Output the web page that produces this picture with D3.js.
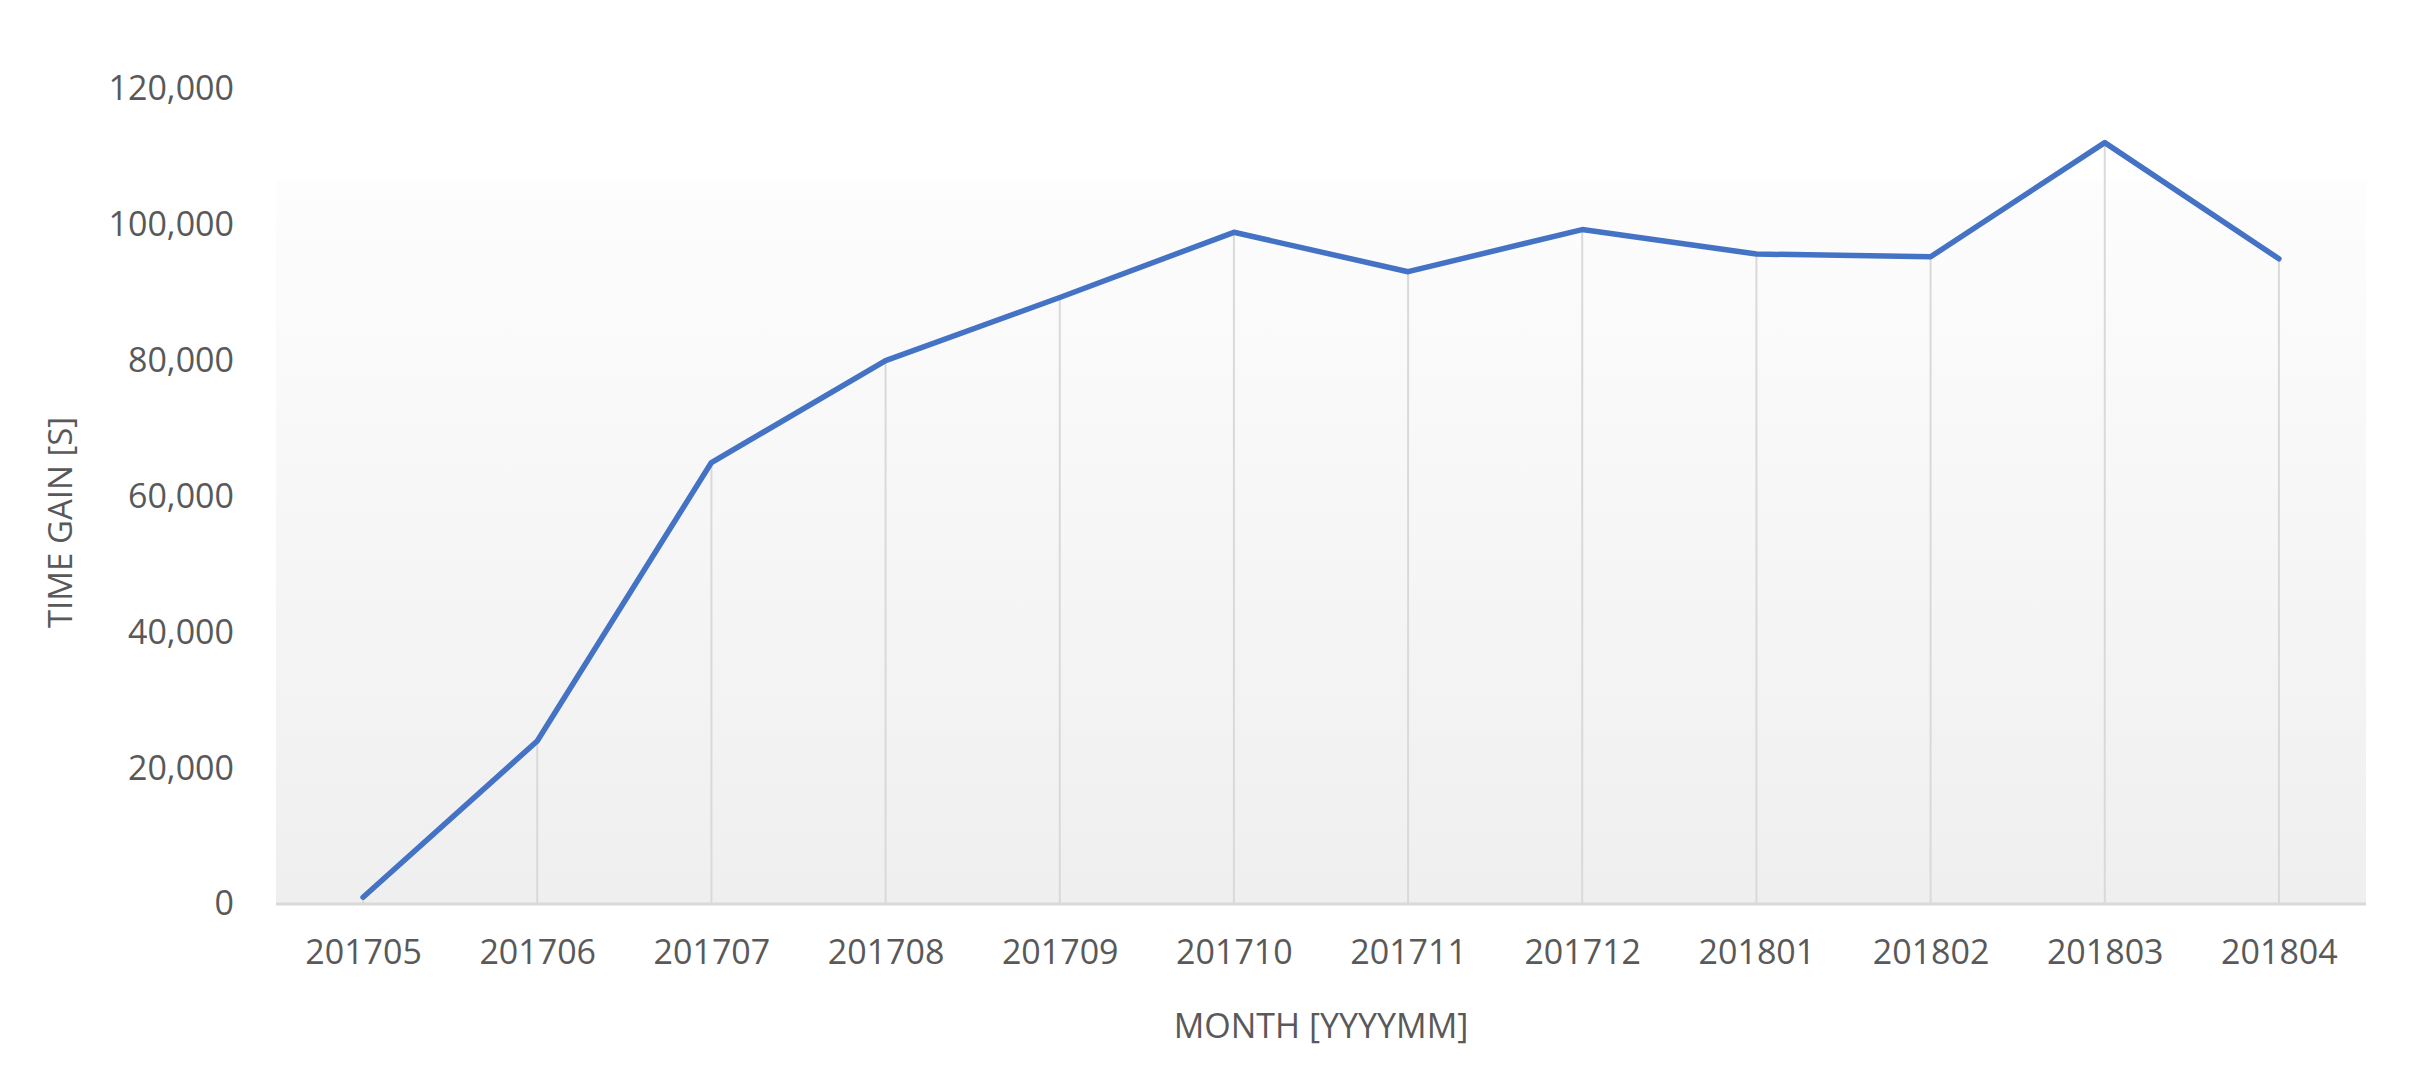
<!DOCTYPE html>
<html>
<head>
<meta charset="utf-8">
<script src="https://cdn.jsdelivr.net/npm/d3@7"></script>
<style>
  html, body { margin: 0; padding: 0; background: #ffffff; }
  svg { display: block; }
  text { font-family: "Open Sans", "Liberation Sans", sans-serif; fill: #595959; }
</style>
</head>
<body>
<svg id="chart" width="2420" height="1090"></svg>
<script>
// ---- data ----
const months = ["201705","201706","201707","201708","201709","201710","201711","201712","201801","201802","201803","201804"];
const timeGain = [1000, 24000, 65000, 80000, 89300, 98900, 93100, 99300, 95700, 95300, 112100, 95000];
const yTicks = [0, 20000, 40000, 60000, 80000, 100000, 120000];
const xTitle = "MONTH [YYYYMM]";
const yTitle = "TIME GAIN [S]";

// ---- layout ----
const W = 2420, H = 1090;
const plot = { left: 276, right: 2366, top: 89, bottom: 904 };
const svg = d3.select("#chart");

const x = d3.scalePoint().domain(months).range([plot.left, plot.right]).padding(0.5);
const y = d3.scaleLinear().domain([0, 120000]).range([plot.bottom, plot.top]);

// gradient background for plot area
const defs = svg.append("defs");
const grad = defs.append("linearGradient").attr("id", "bg").attr("x1", 0).attr("y1", 0).attr("x2", 0).attr("y2", 1);
grad.append("stop").attr("offset", "0%").attr("stop-color", "#fdfdfd");
grad.append("stop").attr("offset", "100%").attr("stop-color", "#efefef");

const bgTop = y(106500);
svg.append("rect")
  .attr("x", plot.left).attr("y", bgTop)
  .attr("width", plot.right - plot.left).attr("height", plot.bottom - bgTop)
  .attr("fill", "url(#bg)");

// drop lines
svg.append("g").selectAll("line")
  .data(months.map((m, i) => ({ m, v: timeGain[i] })))
  .join("line")
  .attr("x1", d => x(d.m)).attr("x2", d => x(d.m))
  .attr("y1", d => y(d.v)).attr("y2", plot.bottom)
  .attr("stroke", "#d9d9d9").attr("stroke-width", 2);

// x axis
const xAxis = svg.append("g")
  .attr("transform", `translate(0,${plot.bottom})`)
  .call(d3.axisBottom(x).tickSize(0).tickPadding(36));
xAxis.select(".domain").remove();
xAxis.selectAll("text").style("font-size", "34px").attr("fill", "#595959");
svg.append("line")
  .attr("x1", plot.left).attr("x2", plot.right)
  .attr("y1", plot.bottom).attr("y2", plot.bottom)
  .attr("stroke", "#d9d9d9").attr("stroke-width", 3);

// y axis
const yAxis = svg.append("g")
  .attr("transform", `translate(${plot.left},0)`)
  .call(d3.axisLeft(y).tickValues(yTicks).tickFormat(d3.format(",")).tickSize(0).tickPadding(42));
yAxis.select(".domain").remove();
yAxis.selectAll("text").style("font-size", "34px").attr("fill", "#595959");

// line
const line = d3.line()
  .x((d, i) => x(months[i]))
  .y(d => y(d));
svg.append("path")
  .datum(timeGain)
  .attr("d", line)
  .attr("fill", "none")
  .attr("stroke", "#4472c4")
  .attr("stroke-width", 5.5)
  .attr("stroke-linejoin", "round")
  .attr("stroke-linecap", "round");

// titles
svg.append("text")
  .attr("x", (plot.left + plot.right) / 2).attr("y", 1038)
  .attr("text-anchor", "middle")
  .style("font-size", "34px")
  .text(xTitle);

svg.append("text")
  .attr("transform", `translate(72,${(plot.top + plot.bottom) / 2 + 26}) rotate(-90)`)
  .attr("text-anchor", "middle")
  .style("font-size", "33px")
  .text(yTitle);
</script>
</body>
</html>
